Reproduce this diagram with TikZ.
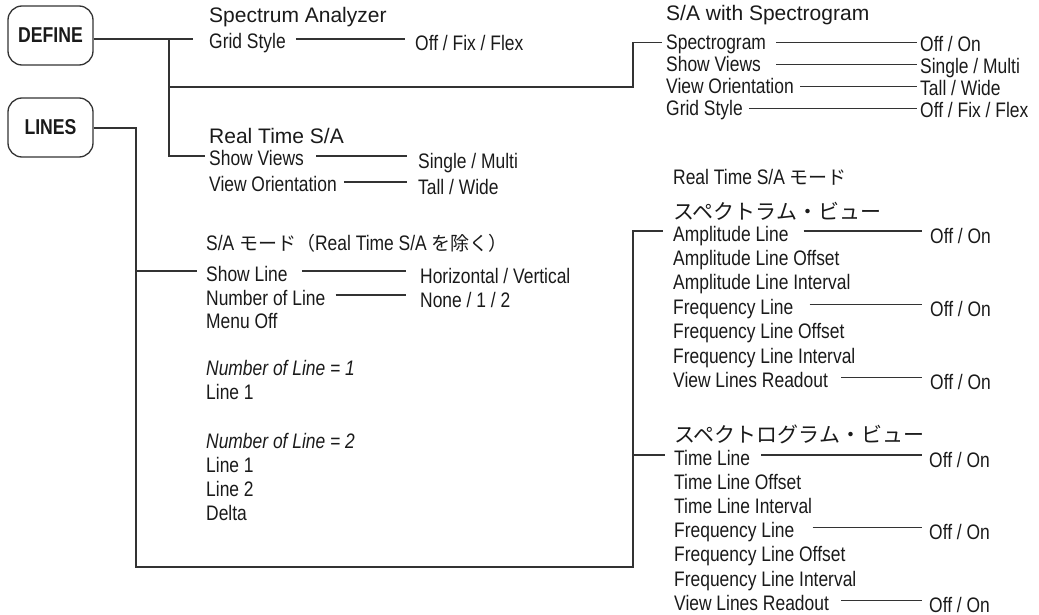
\documentclass[tikz,border=0pt]{standalone}
\usepackage{fontspec}
\setmainfont{Liberation Sans}
\newfontfamily\condf[FakeStretch=0.83]{Liberation Sans}
\newfontfamily\boldcf[FakeStretch=0.82]{Liberation Sans}
\newfontfamily\jpf{Noto Sans CJK JP}
\newcommand\titlef{\fontsize{21}{24}\selectfont}
\newcommand\itemf{\condf\fontsize{21}{24}\selectfont}
\newcommand\boxf{\boldcf\bfseries\fontsize{21.5}{24}\selectfont}
\newcommand\jpin[1]{{\jpf\fontsize{19}{22}\selectfont #1}}
\newcommand\jphead{\jpf\fontsize{21}{24}\selectfont}
\definecolor{linec}{HTML}{333333}
\definecolor{txtc}{HTML}{1A1A1A}
\tikzset{
  ttl/.style={anchor=base west, inner sep=0pt, font=\titlef, text=txtc},
  itm/.style={anchor=base west, inner sep=0pt, font=\itemf, text=txtc},
  val/.style={anchor=base west, inner sep=0pt, font=\itemf, text=txtc},
  jph/.style={anchor=base west, inner sep=0pt, font=\jphead, text=txtc},
  keybox/.style={draw=linec, line width=1.3pt, rounded corners=14pt, minimum width=85pt, minimum height=59pt, font=\boxf, text=txtc, inner sep=0pt},
  wire/.style={draw=linec, line width=1.2pt},
}
\begin{document}
\begin{tikzpicture}[x=1pt,y=-1pt]
\useasboundingbox (0,0) rectangle (1039,615);
% key boxes
\node[keybox] (def) at (50.5,35.5) {DEFINE};
\node[keybox] (lin) at (50.5,127.5) {LINES};
% junctions
\coordinate (j1) at (169,39);
\coordinate (j1b) at (169,156);
\coordinate (j1m) at (169,87);
\coordinate (jr) at (633,87);
\coordinate (jl) at (136,128);
\coordinate (jlb) at (136,567);
\coordinate (jrb) at (633,567);
\coordinate (jra) at (633,231);
\coordinate (jrt) at (633,455);

% Spectrum Analyzer
\node[ttl] (saT) at (209,23) {Spectrum Analyzer};
\node[itm] (saGS) at (209,49) {Grid Style};
\node[val] (saGSv) at (415,51) {Off / Fix / Flex};
% Real Time S/A
\node[ttl] (rtT) at (209,143) {Real Time S/A};
\node[itm] (rtSV) at (209,166) {Show Views};
\node[val] (rtSVv) at (418,168) {Single / Multi};
\node[itm] (rtVO) at (209,192) {View Orientation};
\node[val] (rtVOv) at (418,194) {Tall / Wide};
% S/A with Spectrogram
\node[ttl] (swT) at (666,21) {S/A with Spectrogram};
\node[itm] (swSG) at (666,50) {Spectrogram};
\node[val] (swSGv) at (920,52) {Off / On};
\node[itm] (swSV) at (666,72) {Show Views};
\node[val] (swSVv) at (920,74) {Single / Multi};
\node[itm] (swVO) at (666,94) {View Orientation};
\node[val] (swVOv) at (920,96) {Tall / Wide};
\node[itm] (swGS) at (666,116) {Grid Style};
\node[val] (swGSv) at (920,118) {Off / Fix / Flex};

% LINES, S/A mode
\node[itm] (lsT) at (206,250) {S/A \jpin{モード（}Real Time S/A \jpin{を除く）}};
\node[itm] (lsSL) at (206,281) {Show Line};
\node[val] (lsSLv) at (420,283) {Horizontal / Vertical};
\node[itm] (lsNL) at (206,305) {Number of Line};
\node[val] (lsNLv) at (420,307) {None / 1 / 2};
\node[itm] (lsMO) at (206,328.5) {Menu Off};
\node[itm, font=\itemf\itshape] (lsN1) at (206,375) {Number of Line = 1};
\node[itm] (lsN1a) at (206,399.5) {Line 1};
\node[itm, font=\itemf\itshape] (lsN2) at (206,448) {Number of Line = 2};
\node[itm] (lsN2a) at (206,472) {Line 1};
\node[itm] (lsN2b) at (206,496) {Line 2};
\node[itm] (lsN2c) at (206,520) {Delta};

% Real Time S/A mode, spectrum view
\node[itm] (rsT) at (673,185) {Real Time S/A \jpin{モード}};
\node[jph] (rsH) at (673,219) {スペクトラム・ビュー};
\node[itm] (rsAL) at (673,241) {Amplitude Line};
\node[val] (rsALv) at (930,243) {Off / On};
\node[itm] (rsAO) at (673,265.4) {Amplitude Line Offset};
\node[itm] (rsAI) at (673,289.8) {Amplitude Line Interval};
\node[itm] (rsFL) at (673,314.2) {Frequency Line};
\node[val] (rsFLv) at (930,316.2) {Off / On};
\node[itm] (rsFO) at (673,338.6) {Frequency Line Offset};
\node[itm] (rsFI) at (673,363) {Frequency Line Interval};
\node[itm] (rsVR) at (673,387.4) {View Lines Readout};
\node[val] (rsVRv) at (930,389.4) {Off / On};

% spectrogram view
\node[jph] (sgH) at (674,442) {スペクトログラム・ビュー};
\node[itm] (sgTL) at (674,465) {Time Line};
\node[val] (sgTLv) at (929,467) {Off / On};
\node[itm] (sgTO) at (674,489.2) {Time Line Offset};
\node[itm] (sgTI) at (674,513.4) {Time Line Interval};
\node[itm] (sgFL) at (674,537.6) {Frequency Line};
\node[val] (sgFLv) at (929,539.6) {Off / On};
\node[itm] (sgFO) at (674,561.8) {Frequency Line Offset};
\node[itm] (sgFI) at (674,586) {Frequency Line Interval};
\node[itm] (sgVR) at (674,610.2) {View Lines Readout};
\node[val] (sgVRv) at (929,612.2) {Off / On};

% branch end points
\coordinate (saGSl) at ([xshift=-16pt,yshift=10pt]saGS.base west);
\coordinate (rtSVl) at ([xshift=-4pt,yshift=10pt]rtSV.base west);
\coordinate (swSGl) at ([xshift=-4pt,yshift=7.5pt]swSG.base west);
\coordinate (lsSLl) at ([xshift=-9pt,yshift=10pt]lsSL.base west);
\coordinate (rsALl) at ([xshift=-10pt,yshift=10pt]rsAL.base west);
\coordinate (sgTLl) at ([xshift=-9pt,yshift=10pt]sgTL.base west);

% DEFINE tree
\draw[wire] (def.east |- j1) -- (j1) -- (saGSl);
\draw[wire] (j1) -- (j1b) -- (rtSVl);
\draw[wire] (j1m) -- (jr) -- (jr |- swSGl) -- (swSGl);
% LINES tree
\draw[wire] (lin.east |- jl) -- (jl) -- (jlb) -- (jrb) -- (jra) -- (rsALl);
\draw[wire] (jl |- lsSLl) -- (lsSLl);
\draw[wire] (jrt |- sgTLl) -- (sgTLl);

% item to value connectors
\foreach \a/\b/\ga/\gb/\ya/\yb in {saGS/saGSv/10/10/10/12, rtSV/rtSVv/12/11/10/12, rtVO/rtVOv/7/11/10/12,
  swSG/swSGv/10/3/7.5/9.5, swSV/swSVv/15/3/7.5/9.5, swVO/swVOv/6/3/7.5/9.5, swGS/swGSv/6/3/7.5/9.5,
  lsSL/lsSLv/14/14/10/12, lsNL/lsNLv/10/14/10/12,
  rsAL/rsALv/15/8/10/12, rsFL/rsFLv/16/8/10/12, rsVR/rsVRv/13/8/10/12,
  sgTL/sgTLv/11/7/10/12, sgFL/sgFLv/18/7/10/12, sgVR/sgVRv/12/7/10/12}
  \draw[wire] ([xshift=\ga pt,yshift=\ya pt]\a.base east) -- ([xshift=-\gb pt,yshift=\yb pt]\b.base west);
\end{tikzpicture}
\end{document}
